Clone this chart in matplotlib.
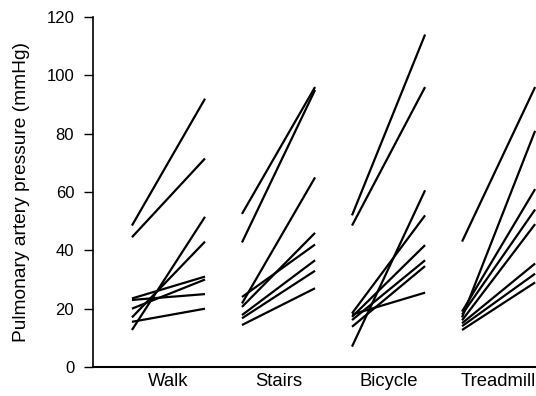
import numpy as np
import matplotlib.pyplot as plt

plt.rcParams['font.family'] = ['Liberation Sans', 'DejaVu Sans']

#Exercise types
activities = ["Walk", "Stairs", "Bicycle", "Treadmill"]

#Pressure at rest and during exercise (mmHg), one pair per patient
walk_rest = [48.5, 44.5, 23.5, 23.0, 20.0, 17.0, 15.5, 12.7]
walk_ex = [92.0, 71.5, 31.0, 25.0, 30.0, 43.0, 20.0, 51.5]

stairs_rest = [52.5, 42.7, 21.8, 20.6, 24.0, 17.8, 16.7, 14.4]
stairs_ex = [96.0, 95.0, 65.0, 46.0, 42.0, 36.6, 33.0, 27.0]

bicycle_rest = [52.0, 48.5, 7.0, 18.4, 17.2, 16.1, 13.8, 18.0]
bicycle_ex = [114.0, 96.0, 60.6, 52.0, 41.8, 36.6, 34.6, 25.5]

treadmill_rest = [43.0, 17.0, 19.0, 18.0, 16.0, 15.0, 14.0, 12.7]
treadmill_ex = [96.0, 81.0, 61.0, 54.0, 49.0, 35.5, 32.0, 29.0]

rest_all = [walk_rest, stairs_rest, bicycle_rest, treadmill_rest]
ex_all = [walk_ex, stairs_ex, bicycle_ex, treadmill_ex]

fig = plt.figure(figsize=(5.36, 3.96), dpi=100)
ax = fig.add_axes([0.1735, 0.0732, 0.8265, 0.8838])

half = 0.332
for i in range(len(activities)):
    for r, e in zip(rest_all[i], ex_all[i]):
        ax.plot([i - half, i + half], [r, e], color='k', lw=1.6,
                solid_capstyle='butt', clip_on=False)

ax.set_xlim(-0.686, 3.34)
ax.set_ylim(0, 120)
ax.set_yticks(range(0, 121, 20))
ax.set_xticks(range(len(activities)))
ax.set_xticklabels(activities, fontsize=13.3)

ax.spines['top'].set_visible(False)
ax.spines['right'].set_visible(False)
ax.spines['left'].set_linewidth(1.2)
ax.spines['bottom'].set_linewidth(1.5)
ax.tick_params(axis='y', length=6.5, width=1.0, labelsize=12, pad=7)
ax.tick_params(axis='x', length=0, pad=4)

ax.set_ylabel("Pulmonary artery pressure (mmHg)", fontsize=13.8)
ax.yaxis.set_label_coords(-0.142, 0.5)

plt.savefig("out.png", dpi=100)
